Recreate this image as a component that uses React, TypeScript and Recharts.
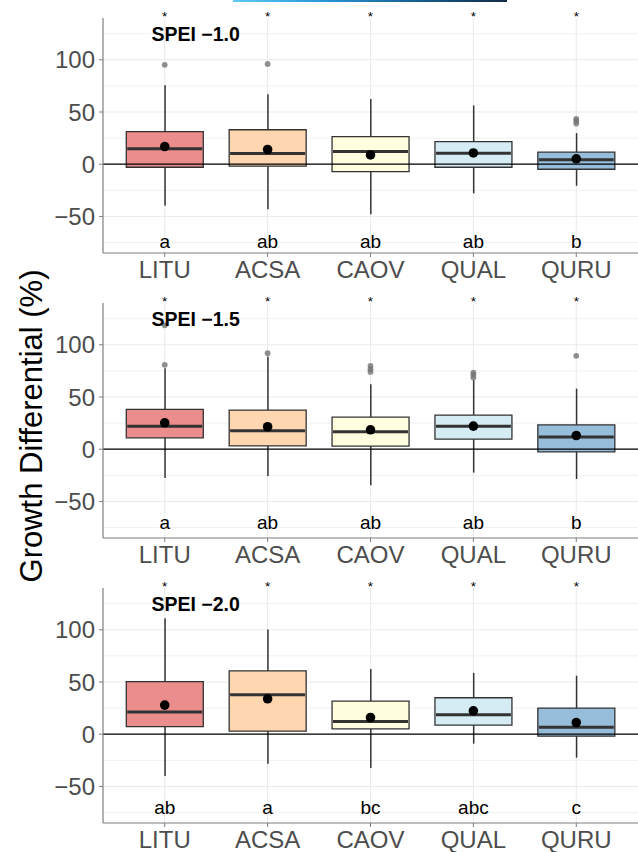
import React from 'react';
import {
  ComposedChart,
  Bar,
  Scatter,
  XAxis,
  YAxis,
  CartesianGrid,
  ReferenceLine,
  Cell,
} from 'recharts';

// ---------- data ----------
const species = ['LITU', 'ACSA', 'CAOV', 'QUAL', 'QURU'];
const speciesFill = ['#EB8C8D', '#FED6B0', '#FFFFDF', '#D5ECF4', '#96BDDA'];
const panelTitles = ['SPEI \u22121.0', 'SPEI \u22121.5', 'SPEI \u22122.0'];

const yMajorTicks = [-50, 0, 50, 100];
const yMinorTicks = [-75, -25, 25, 75, 125];

// panel 1 (SPEI -1.0)
const p1Low = [-39.8, -43, -47.8, -27.9, -20.6];
const p1Q1 = [-2.9, -1.9, -7.1, -2.9, -4.8];
const p1Median = [14.7, 10.2, 12.1, 10.6, 4.4];
const p1Q3 = [31.3, 33, 26.5, 21.7, 11.5];
const p1High = [75.6, 67, 62.5, 56.3, 29.8];
const p1Mean = [16.9, 14.1, 8.9, 10.8, 5.2];
const p1Outliers = [
  { x: 1, y: 95.2 },
  { x: 2, y: 96 },
  { x: 5, y: 43.5 },
  { x: 5, y: 41.5 },
  { x: 5, y: 39 },
];
const p1Letters = ['a', 'ab', 'ab', 'ab', 'b'];

// panel 2 (SPEI -1.5)
const p2Low = [-27.6, -25.6, -34.6, -22.4, -28.5];
const p2Q1 = [10.9, 3.2, 2.9, 9.6, -2.6];
const p2Median = [22.1, 17.6, 16.7, 22.1, 11.8];
const p2Q3 = [38.1, 37.5, 30.8, 32.7, 23.4];
const p2High = [77.6, 88.8, 62.2, 66.3, 58];
const p2Mean = [25.3, 21.5, 18.6, 22.1, 13.1];
const p2Outliers = [
  { x: 1, y: 80.8 },
  { x: 1, y: 118.6 },
  { x: 2, y: 92 },
  { x: 3, y: 79.8 },
  { x: 3, y: 76.6 },
  { x: 3, y: 74 },
  { x: 4, y: 73.4 },
  { x: 4, y: 71.2 },
  { x: 4, y: 68.6 },
  { x: 5, y: 89.4 },
];
const p2Letters = ['a', 'ab', 'ab', 'ab', 'b'];

// panel 3 (SPEI -2.0)
const p3Low = [-40.1, -28.2, -32.4, -9, -22.5];
const p3Q1 = [7.3, 2.9, 5.1, 8.7, -1.9];
const p3Median = [21.2, 37.8, 12.1, 18.6, 6.7];
const p3Q3 = [50.3, 60.6, 31.7, 34.9, 25];
const p3High = [111, 100.3, 62.5, 58.7, 56];
const p3Mean = [27.9, 33.9, 16, 22.4, 11.2];
const p3Outliers: { x: number; y: number }[] = [];
const p3Letters = ['ab', 'a', 'bc', 'abc', 'c'];

const letterY = [-74, -70.5, -70];
const starY = 140;
const titlePos = { x: 1.3, y: 125 };

// ---------- styling ----------
const FONT = '"Liberation Sans", Arial, Helvetica, sans-serif';
const BORDER = '#7f7f7f';
const DARK = '#333333';
const GRID = '#ebebeb';
const BOX_WIDTH = 77;

type Panel = {
  low: number[];
  q1: number[];
  median: number[];
  q3: number[];
  high: number[];
  mean: number[];
  outliers: { x: number; y: number }[];
  letters: string[];
  title: string;
  letterY: number;
};

const panels: Panel[] = [
  { low: p1Low, q1: p1Q1, median: p1Median, q3: p1Q3, high: p1High, mean: p1Mean, outliers: p1Outliers, letters: p1Letters, title: panelTitles[0], letterY: letterY[0] },
  { low: p2Low, q1: p2Q1, median: p2Median, q3: p2Q3, high: p2High, mean: p2Mean, outliers: p2Outliers, letters: p2Letters, title: panelTitles[1], letterY: letterY[1] },
  { low: p3Low, q1: p3Q1, median: p3Median, q3: p3Q3, high: p3High, mean: p3Mean, outliers: p3Outliers, letters: p3Letters, title: panelTitles[2], letterY: letterY[2] },
];

const MedianShape = (props: any) => {
  const { cx, cy } = props;
  if (cx == null || cy == null) return null;
  return (
    <line
      x1={cx - BOX_WIDTH / 2 + 1}
      x2={cx + BOX_WIDTH / 2 - 1}
      y1={cy}
      y2={cy}
      stroke={DARK}
      strokeWidth={3}
    />
  );
};

const MeanShape = (props: any) => {
  const { cx, cy } = props;
  if (cx == null || cy == null) return null;
  return <circle cx={cx} cy={cy} r={4.8} fill="#000" />;
};

const OutlierShape = (props: any) => {
  const { cx, cy } = props;
  if (cx == null || cy == null) return null;
  return <circle cx={cx} cy={cy} r={2.9} fill="#737373" fillOpacity={0.8} />;
};

const LetterShape = (props: any) => {
  const { cx, cy, payload } = props;
  if (cx == null || cy == null) return null;
  return (
    <text x={cx} y={cy} textAnchor="middle" dominantBaseline="central" fontSize={19} fontFamily={FONT} fill="#000">
      {payload.label}
    </text>
  );
};

const StarShape = (props: any) => {
  const { cx, cy } = props;
  if (cx == null || cy == null) return null;
  return (
    <text x={cx} y={cy + 2.5} textAnchor="middle" fontSize={13.5} fontFamily={FONT} fill="#000">
      *
    </text>
  );
};

const TitleShape = (props: any) => {
  const { cx, cy, payload } = props;
  if (cx == null || cy == null) return null;
  return (
    <text x={cx} y={cy} textAnchor="middle" dominantBaseline="central" fontSize={19.5} fontWeight="bold" fontFamily={FONT} fill="#000">
      {payload.label}
    </text>
  );
};

const fmtY = (v: number) => String(v).replace('-', '\u2212');

function PanelChart({ panel }: { panel: Panel }) {
  const rows = species.map((s, i) => ({
    x: i + 1,
    name: s,
    whisker: [panel.low[i], panel.high[i]],
    box: [panel.q1[i], panel.q3[i]],
    median: panel.median[i],
    mean: panel.mean[i],
  }));
  const letterRows = panel.letters.map((l, i) => ({ x: i + 1, y: panel.letterY, label: l }));
  const starRows = species.map((_, i) => ({ x: i + 1, y: starY }));
  const titleRows = [{ x: titlePos.x, y: titlePos.y, label: panel.title }];

  return (
    <ComposedChart
      width={638}
      height={290}
      data={rows}
      margin={{ top: 18, right: 0, bottom: 0, left: 0 }}
    >
      <CartesianGrid
        horizontalValues={yMinorTicks}
        vertical={false}
        stroke={GRID}
        strokeWidth={0.7}
      />
      <CartesianGrid
        horizontalValues={yMajorTicks}
        verticalValues={[1, 2, 3, 4, 5]}
        stroke={GRID}
        strokeWidth={1.1}
      />
      <XAxis
        dataKey="x"
        type="number"
        domain={[0.4, 5.6]}
        ticks={[1, 2, 3, 4, 5]}
        interval={0}
        tickFormatter={(v: number) => species[v - 1]}
        height={37}
        tickSize={4}
        tickMargin={4}
        axisLine={{ stroke: BORDER, strokeWidth: 1.2 }}
        tickLine={{ stroke: BORDER }}
        tick={{ fontSize: 24, fill: '#4d4d4d', fontFamily: FONT }}
      />
      <XAxis
        xAxisId="top"
        dataKey="x"
        type="number"
        orientation="top"
        domain={[0.4, 5.6]}
        height={0}
        tick={false}
        tickLine={false}
        axisLine={{ stroke: BORDER, strokeWidth: 1.2 }}
      />
      <XAxis xAxisId="w" dataKey="x" type="number" domain={[0.4, 5.6]} hide />
      <XAxis xAxisId="b" dataKey="x" type="number" domain={[0.4, 5.6]} hide />
      <YAxis
        type="number"
        domain={[-85, 140]}
        ticks={yMajorTicks}
        interval={0}
        width={103}
        tickSize={4}
        tickMargin={4}
        tickFormatter={fmtY}
        axisLine={{ stroke: BORDER, strokeWidth: 1.2 }}
        tickLine={{ stroke: BORDER }}
        tick={{ fontSize: 24, fill: '#4d4d4d', fontFamily: FONT }}
      />
      <Bar
        xAxisId="w"
        dataKey="whisker"
        barSize={1.5}
        fill={DARK}
        isAnimationActive={false}
      />
      <Bar
        xAxisId="b"
        dataKey="box"
        barSize={BOX_WIDTH}
        stroke={DARK}
        strokeWidth={1.3}
        isAnimationActive={false}
      >
        {rows.map((_, i) => (
          <Cell key={i} fill={speciesFill[i]} />
        ))}
      </Bar>
      <ReferenceLine y={0} stroke="#000" strokeWidth={1.2} />
      <Scatter data={rows} dataKey="median" shape={MedianShape} isAnimationActive={false} />
      <Scatter data={panel.outliers} dataKey="y" shape={OutlierShape} isAnimationActive={false} />
      <Scatter data={rows} dataKey="mean" shape={MeanShape} isAnimationActive={false} />
      <Scatter data={letterRows} dataKey="y" shape={LetterShape} isAnimationActive={false} />
      <Scatter data={starRows} dataKey="y" shape={StarShape} isAnimationActive={false} />
      <Scatter data={titleRows} dataKey="y" shape={TitleShape} isAnimationActive={false} />
    </ComposedChart>
  );
}

const chartTops = [0, 285, 570];

export default function App() {
  return (
    <div
      style={{
        position: 'fixed',
        left: 0,
        top: 0,
        width: 638,
        height: 852,
        overflow: 'hidden',
        background: '#fff',
        fontFamily: FONT,
      }}
    >
      <div
        style={{
          position: 'absolute',
          left: 233,
          top: 0,
          width: 274,
          height: 2,
          background: 'linear-gradient(to right, #5ec8f8, #2b95d6, #155f91, #132b43)',
        }}
      />
      {panels.map((p, i) => (
        <div key={i} style={{ position: 'absolute', left: 0, top: chartTops[i] }}>
          <PanelChart panel={p} />
        </div>
      ))}
      <svg
        style={{ position: 'absolute', left: 0, top: 0 }}
        width={60}
        height={852}
      >
        <text
          x={41.5}
          y={426}
          transform="rotate(-90 41.5 426)"
          textAnchor="middle"
          fontSize={31}
          fontFamily={FONT}
          fill="#000"
        >
          Growth Differential (%)
        </text>
      </svg>
    </div>
  );
}
